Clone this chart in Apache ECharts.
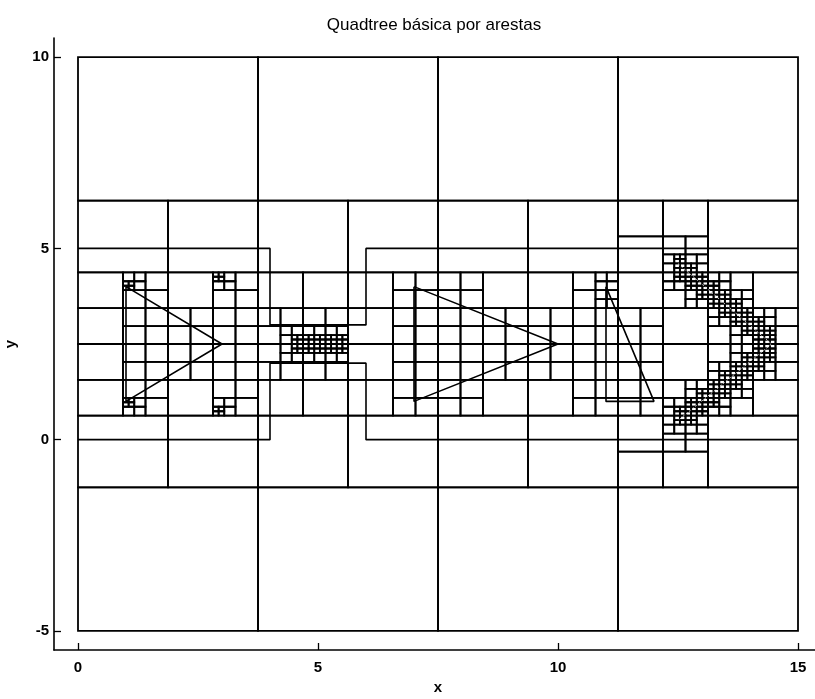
<!DOCTYPE html>
<html><head><meta charset="utf-8">
<script src="https://cdn.jsdelivr.net/npm/echarts@6/dist/echarts.min.js"></script>
<style>html,body{margin:0;padding:0;background:#fff}#c{width:815px;height:699px}</style>
</head><body><div id="c"></div>
<script>
// ---- data ----
const chartTitle = 'Quadtree básica por arestas';
const xTickValues = [0, 5, 10, 15];
const yTickValues = [-5, 0, 5, 10];
const rootX = [0, 15];
const rootY = [-5, 10];
const maxDepth = 7;

const triangle1 = [[1, 4], [1, 1], [3, 2.5], [1, 4]];
const triangle2 = [[7, 4], [7, 1], [10, 2.5], [7, 4]];
const triangle3 = [[11, 4], [12, 1], [11, 1], [11, 4]];
const chevron = [[12.5, 4.6], [14.45, 2.5], [12.5, 0.5]];
const centreBar = [[4.5, 2.5], [5.6, 2.5]];
const outlineTop = [[0, 5], [4, 5], [4, 3], [6, 3], [6, 5], [15, 5]];
const outlineBottom = [[0, 0], [4, 0], [4, 2], [6, 2], [6, 0], [15, 0]];

// refinement: quadtree level reached around each feature, and its half-width
const edgeRefine = [
  { path: triangle1, depth: 5, halfWidth: 0 },
  { path: triangle2, depth: 5, halfWidth: 0 },
  { path: triangle3, depth: 5, halfWidth: 0 },
  { path: chevron, depth: 7, halfWidth: 0.075 },
  { path: centreBar, depth: 7, halfWidth: 0 }
];
const pointRefine = [
  [1, 3.95, 7], [1, 1.05, 7], [2.95, 4.25, 7], [2.95, 0.75, 7], [11, 4, 6], [11, 3.5, 6]
];

// ---- quadtree subdivision ----
const segs = [];
edgeRefine.forEach(f => {
  for (let k = 0; k + 1 < f.path.length; k++) {
    segs.push({ a: f.path[k], b: f.path[k + 1], depth: f.depth, r: f.halfWidth });
  }
});
function segHits(s, x0, y0, x1, y1) {
  const e = 1e-9 + s.r;
  x0 -= e; y0 -= e; x1 += e; y1 += e;
  const ax = s.a[0], ay = s.a[1], dx = s.b[0] - ax, dy = s.b[1] - ay;
  const p = [-dx, dx, -dy, dy], q = [ax - x0, x1 - ax, ay - y0, y1 - ay];
  let t0 = 0, t1 = 1;
  for (let k = 0; k < 4; k++) {
    if (p[k] === 0) { if (q[k] < 0) return false; }
    else {
      const r = q[k] / p[k];
      if (p[k] < 0) { if (r > t1) return false; if (r > t0) t0 = r; }
      else { if (r < t0) return false; if (r < t1) t1 = r; }
    }
  }
  return true;
}
const leaves = [];
function build(x0, y0, x1, y1, d) {
  let split = false;
  if (d < maxDepth) {
    for (const s of segs) { if (d < s.depth && segHits(s, x0, y0, x1, y1)) { split = true; break; } }
    if (!split) for (const p of pointRefine) {
      if (d < p[2] && p[0] >= x0 && p[0] <= x1 && p[1] >= y0 && p[1] <= y1) { split = true; break; }
    }
  }
  if (split) {
    const mx = (x0 + x1) / 2, my = (y0 + y1) / 2;
    build(x0, y0, mx, my, d + 1); build(mx, y0, x1, my, d + 1);
    build(x0, my, mx, y1, d + 1); build(mx, my, x1, y1, d + 1);
  } else leaves.push([x0, y0, x1, y1]);
}
build(rootX[0], rootY[0], rootX[1], rootY[1], 0);

// ---- chart ----
const chart = echarts.init(document.getElementById('c'), null, { renderer: 'canvas' });
const font = 'Liberation Sans, Arial, Helvetica, sans-serif';
function pathSeries(pts, opts) {
  return Object.assign({
    type: 'line', data: pts, symbol: 'none', silent: true, z: 5,
    lineStyle: { color: '#000', width: 1.6 }
  }, opts || {});
}
chart.setOption({
  animation: false,
  backgroundColor: '#fff',
  title: {
    text: chartTitle, left: 429, top: 12, textAlign: 'center',
    textStyle: { fontSize: 17, fontWeight: 'normal', color: '#000', fontFamily: font }
  },
  grid: { left: 54, top: 38, width: 768, height: 612, containLabel: false, outerBoundsMode: 'none' },
  xAxis: {
    type: 'value', min: -0.5, max: 15.5,
    name: 'x', nameLocation: 'middle', nameGap: 27,
    nameTextStyle: { fontSize: 15, color: '#000', fontFamily: font, fontWeight: 'bold' },
    axisLine: { onZero: false, lineStyle: { color: '#000', width: 1.6 } },
    axisTick: { inside: true, length: 7, customValues: xTickValues, lineStyle: { color: '#000', width: 1.3 } },
    axisLabel: { customValues: xTickValues, margin: 10, fontSize: 15, fontWeight: 'bold', color: '#000', fontFamily: font },
    splitLine: { show: false }
  },
  yAxis: {
    type: 'value', min: -5.5, max: 10.5,
    name: 'y', nameLocation: 'middle', nameGap: 36, nameRotate: 90,
    nameTextStyle: { fontSize: 15, color: '#000', fontFamily: font, fontWeight: 'bold' },
    axisLine: { onZero: false, lineStyle: { color: '#000', width: 1.6 } },
    axisTick: { inside: true, length: 7, customValues: yTickValues, lineStyle: { color: '#000', width: 1.3 } },
    axisLabel: { customValues: yTickValues, margin: 5, fontSize: 15, fontWeight: 'bold', color: '#000', fontFamily: font },
    splitLine: { show: false }
  },
  series: [
    {
      type: 'custom', data: leaves, silent: true, z: 2,
      renderItem: function (params, api) {
        const p0 = api.coord([api.value(0), api.value(1)]);
        const p1 = api.coord([api.value(2), api.value(3)]);
        return {
          type: 'rect',
          shape: { x: p0[0], y: p1[1], width: p1[0] - p0[0], height: p0[1] - p1[1] },
          style: { fill: null, stroke: '#000', lineWidth: 1.8 }
        };
      },
      encode: { x: [0, 2], y: [1, 3] }
    },
    pathSeries(outlineTop),
    pathSeries(outlineBottom),
    pathSeries(triangle1),
    pathSeries(triangle2),
    pathSeries(triangle3),
    pathSeries(centreBar),
    pathSeries(chevron, { lineStyle: { color: '#ccc', width: 1, type: [2, 2] } })
  ]
});
</script></body></html>
